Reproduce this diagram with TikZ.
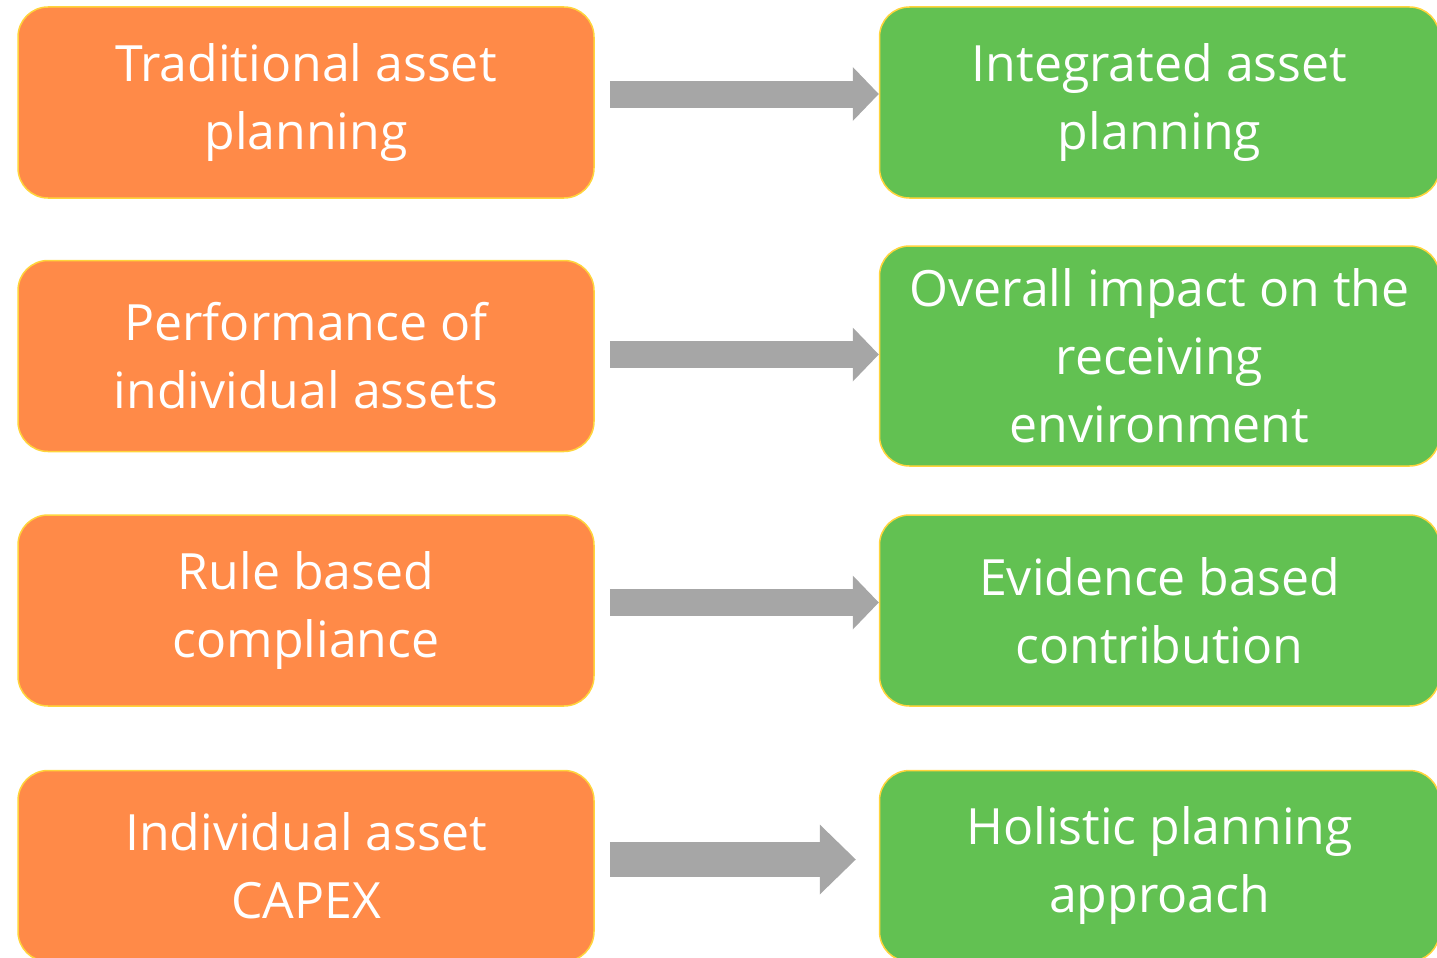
\documentclass[tikz,border=0pt]{standalone}
\usepackage{fontspec}
\setmainfont{Open Sans}
\usetikzlibrary{positioning, arrows.meta}
\definecolor{oldorange}{HTML}{FF8A48}
\definecolor{newgreen}{HTML}{62C152}
\definecolor{boxedge}{HTML}{FFD43C}
\definecolor{arrowgray}{HTML}{A6A6A6}
\tikzset{oldbox/.style={rectangle, rounded corners=30pt, minimum width=576pt, minimum height=191pt, text centered, align=center, draw=boxedge, line width=1.5pt, fill=oldorange, text=white, font=\fontsize{50}{68}\selectfont},
         newbox/.style={oldbox, fill=newgreen, minimum width=560pt},
         shift arrow/.style={draw=arrowgray, line width=27pt, -{Triangle[length=26pt, width=54pt, line width=0pt]}},
         big shift arrow/.style={draw=arrowgray, line width=35pt, -{Triangle[length=36pt, width=70pt, line width=0pt]}}}

\begin{document}
\begin{tikzpicture}[x=1pt, y=-1pt]
        \useasboundingbox (0,0) rectangle (1437,958);

        \node (trad)[oldbox] at (306,102.5) {Traditional asset\\planning};
        \node (perf)[oldbox, below=61pt of trad]{Performance of\\individual assets};
        \node (rule)[oldbox, below=62pt of perf]{Rule based\\compliance};
        \node (capex)[oldbox, below=63pt of rule]{Individual asset\\CAPEX};

        \node (integ)[newbox, right=284pt of trad]{Integrated asset\\planning};
        \node (impact)[newbox, minimum height=220pt, right=284pt of perf]{Overall impact on the\\receiving\\environment};
        \node (evid)[newbox, right=284pt of rule]{Evidence based\\contribution};
        \node (holist)[newbox, right=284pt of capex]{Holistic planning\\approach};

        \draw [shift arrow] ([xshift=15pt, yshift=8.5pt]trad.east) -- ([yshift=8.5pt]integ.west);
        \draw [shift arrow] ([xshift=15pt, yshift=1.5pt]perf.east) -- ([yshift=1.5pt]impact.west);
        \draw [shift arrow] ([xshift=15pt, yshift=8pt]rule.east) -- ([yshift=8pt]evid.west);
        \draw [big shift arrow] ([xshift=15pt, yshift=6.5pt]capex.east) -- ([xshift=-23pt, yshift=6.5pt]holist.west);
    \end{tikzpicture}
\end{document}
